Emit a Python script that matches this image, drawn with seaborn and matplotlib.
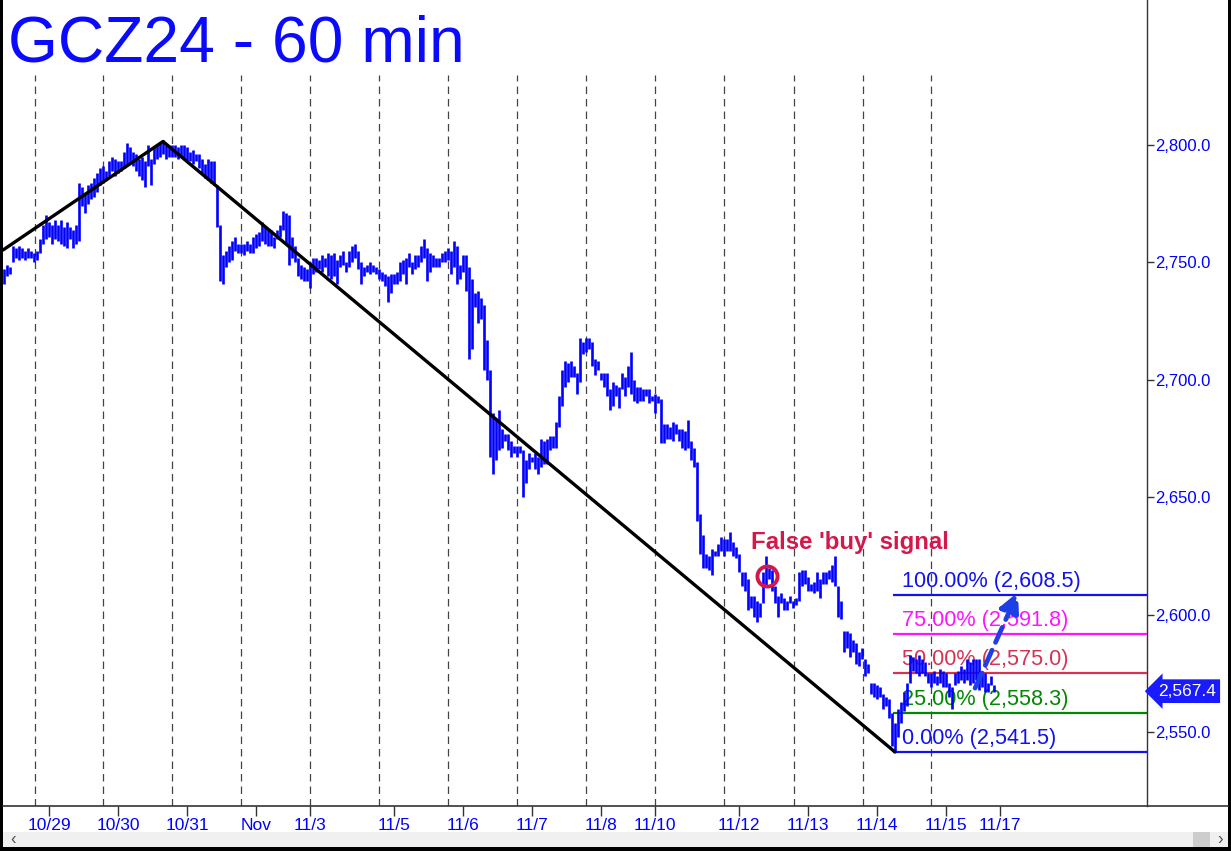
import numpy as np
import matplotlib
matplotlib.use("Agg")
import matplotlib.pyplot as plt
import matplotlib.transforms as mtransforms
from matplotlib.patches import Rectangle
from matplotlib.lines import Line2D
import seaborn as sns

sns.set_theme(style="white")
plt.rcParams['font.family'] = ['Liberation Sans', 'DejaVu Sans']

# hourly bars, high / low
highs = [
    2747, 2749, 2748, 2757, 2756, 2757, 2756, 2755, 2756, 2755, 2754,
    2755, 2760, 2766, 2770, 2767, 2766, 2768, 2766, 2768, 2765, 2767, 2765,
    2764, 2766, 2784, 2782, 2779, 2783, 2784, 2786, 2788, 2790, 2791,
    2789, 2793, 2795, 2794, 2793, 2793, 2797, 2801, 2799, 2797, 2796, 2794,
    2795, 2793, 2800, 2794, 2799, 2800, 2801, 2802, 2800, 2799, 2800,
    2800, 2799, 2800, 2800, 2799, 2797, 2798, 2796, 2796, 2794, 2792, 2794,
    2793, 2793, 2783, 2766, 2753, 2755, 2757, 2759, 2761, 2758, 2758,
    2758, 2759, 2758, 2761, 2762, 2763, 2767, 2765, 2764, 2764, 2761, 2764,
    2766, 2772, 2771, 2770, 2761, 2757, 2752, 2749, 2748, 2747, 2750,
    2752, 2752, 2751, 2753, 2752, 2754, 2753, 2754, 2751, 2753, 2755, 2750,
    2755, 2757, 2758, 2755, 2750, 2748, 2749, 2750, 2749, 2748, 2747,
    2746, 2745, 2744, 2745, 2745, 2746, 2750, 2751, 2752, 2754, 2750, 2753,
    2753, 2757, 2760, 2756, 2754, 2753, 2752, 2752, 2754, 2755, 2756,
    2755, 2759, 2757, 2749, 2753, 2753, 2748, 2743, 2737, 2738, 2735, 2732, 2717,
    2704, 2686, 2683, 2687, 2679, 2677, 2677, 2674, 2672, 2672, 2672,
    2670, 2666, 2669, 2667, 2669, 2667, 2675, 2674, 2675, 2676, 2676, 2682,
    2693, 2704, 2708, 2707, 2708, 2706, 2703, 2718, 2716, 2718, 2718, 2716,
    2709, 2708, 2703, 2703, 2703, 2696, 2699, 2698, 2697, 2703, 2701, 2706,
    2712, 2700, 2697, 2697, 2696, 2696, 2696, 2693, 2694, 2693, 2692,
    2681, 2681, 2680, 2682, 2681, 2679, 2679, 2678, 2683, 2674, 2671, 2665,
    2643, 2634, 2626, 2625, 2628, 2627, 2630, 2633, 2632, 2632, 2635, 2631,
    2629, 2626, 2618, 2618, 2615, 2608, 2608, 2606, 2605, 2618, 2625, 2620,
    2619, 2612, 2608, 2609, 2607, 2606, 2608, 2606, 2607, 2618, 2619, 2619,
    2616, 2613, 2614, 2618, 2615, 2618, 2618, 2619,
    2621, 2625, 2612, 2606, 2593, 2593, 2592, 2589, 2588, 2584, 2586, 2581,
    2579, 2571, 2571, 2570, 2569, 2566, 2565, 2564, 2558, 2554, 2560, 2563,
    2567, 2571, 2583, 2582, 2581, 2583, 2581, 2580, 2575, 2575, 2576, 2574,
    2577, 2576, 2575, 2571, 2569, 2575, 2576, 2578, 2577, 2581, 2580, 2581,
    2581, 2581, 2576, 2575, 2571, 2574, 2570,
]
lows = [
    2741, 2744, 2745, 2750, 2752, 2751, 2752, 2751, 2752, 2752, 2750,
    2751, 2754, 2758, 2760, 2761, 2758, 2760, 2759, 2758, 2757, 2756, 2760,
    2756, 2758, 2759, 2774, 2771, 2775, 2777, 2778, 2780, 2783, 2784,
    2785, 2787, 2789, 2787, 2788, 2789, 2790, 2792, 2792, 2791, 2789, 2787,
    2785, 2782, 2791, 2783, 2792, 2794, 2795, 2796, 2794, 2795, 2795,
    2795, 2794, 2795, 2794, 2793, 2793, 2792, 2793, 2790, 2788, 2786, 2785,
    2784, 2783, 2765, 2742, 2741, 2748, 2750, 2751, 2755, 2754, 2754,
    2753, 2755, 2754, 2754, 2756, 2757, 2759, 2758, 2757, 2757, 2756, 2760,
    2761, 2764, 2758, 2749, 2752, 2750, 2744, 2743, 2742, 2742, 2739,
    2745, 2746, 2747, 2746, 2748, 2744, 2743, 2744, 2741, 2748, 2749, 2746,
    2748, 2750, 2752, 2747, 2741, 2744, 2746, 2745, 2746, 2745, 2743,
    2742, 2740, 2733, 2737, 2741, 2741, 2742, 2745, 2741, 2748, 2745, 2747,
    2748, 2750, 2752, 2742, 2746, 2748, 2748, 2748, 2750, 2750, 2751,
    2745, 2748, 2741, 2743, 2746, 2738, 2709, 2713, 2731, 2724, 2726, 2704, 2700,
    2667, 2660, 2666, 2670, 2671, 2674, 2670, 2667, 2669, 2667, 2669,
    2650, 2656, 2662, 2665, 2662, 2660, 2663, 2664, 2664, 2670, 2671, 2671,
    2680, 2689, 2697, 2699, 2701, 2701, 2694, 2699, 2711, 2712, 2713, 2706,
    2702, 2704, 2700, 2697, 2693, 2687, 2689, 2693, 2688, 2696, 2693, 2697,
    2694, 2691, 2690, 2691, 2691, 2693, 2690, 2691, 2686, 2690, 2673,
    2673, 2675, 2675, 2674, 2677, 2674, 2671, 2670, 2671, 2666, 2663, 2640,
    2626, 2620, 2620, 2619, 2617, 2625, 2625, 2627, 2625, 2627, 2627, 2625,
    2624, 2618, 2612, 2610, 2602, 2603, 2599, 2597, 2599, 2605, 2612, 2615,
    2610, 2605, 2599, 2605, 2602, 2602, 2605, 2603, 2604, 2606, 2612, 2613,
    2610, 2610, 2609, 2610, 2607, 2613, 2613, 2615,
    2614, 2612, 2599, 2598, 2584, 2586, 2582, 2584, 2579, 2578, 2581, 2574,
    2575, 2566, 2565, 2564, 2565, 2560, 2561, 2556, 2544, 2541.5, 2548, 2554,
    2559, 2561, 2571, 2576, 2575, 2574, 2575, 2574, 2571, 2569, 2571, 2570,
    2571, 2569, 2569, 2565, 2560, 2570, 2571, 2572, 2571, 2572, 2570, 2571,
    2572, 2568, 2569, 2567, 2567, 2570, 2567,
]

tick_pos = [15, 38, 61, 84, 102, 130, 153, 176, 199, 217, 245, 268, 291, 314, 332]
tick_labels = ['10/29', '10/30', '10/31', 'Nov', '11/3', '11/5', '11/6', '11/7',
               '11/8', '11/10', '11/12', '11/13', '11/14', '11/15', '11/17']
session_breaks = [10.3, 33, 56, 79, 102, 125, 148, 171, 194, 217, 240, 263.3, 286.3, 309]

trend_x = [-0.3, 53, 297]
trend_y = [2755.3, 2801.5, 2541.5]

fib_pct = ['100.00%', '75.00%', '50.00%', '25.00%', '0.00%']
fib_levels = [2608.5, 2591.8, 2575.0, 2558.3, 2541.5]
fib_colors = ['#1212ee', '#ff14ff', '#d43452', '#008800', '#1212ee']
fib_start = 296.3

last_price = 2567.4
signal_bar, signal_price = 254.3, 2616.4
arrow_from = (323.7, 2568.7)
arrow_to = (338.0, 2609.6)

BLUE = '#0000ff'
RED = '#d4184b'

W, H = 1231, 851
fig = plt.figure(figsize=(W / 100, H / 100), dpi=100)
ax = fig.add_axes([3 / W, 45 / H, 1144 / W, 806 / H])
ax.set_facecolor('white')

x = np.arange(len(highs))
ax.vlines(x, lows, highs, color=BLUE, lw=1.9, zorder=4)

for b in session_breaks:
    ax.axvline(b, ymin=0, ymax=(806 - 75) / 806, color='#444444', lw=0.9,
               ls=(0, (6, 4)), zorder=1)

sns.lineplot(x=trend_x, y=trend_y, ax=ax, color='black', lw=2.4,
             estimator=None, sort=False, zorder=5)

for pct, lvl, c in zip(fib_pct, fib_levels, fib_colors):
    ax.hlines(lvl, fib_start, 381, color=c, lw=1.6, zorder=3)
    ax.text(fib_start + 3, lvl + 3.4, f"{pct} ({lvl:,.1f})", color=c,
            fontsize=15.6, va='baseline', ha='left', zorder=2)

ax.text(249, 2627.9, "False 'buy' signal", color=RED, fontsize=17.3,
        fontweight='bold', va='baseline', ha='left', zorder=6)
ax.plot(signal_bar, signal_price, 'o', ms=14.5, mfc='none', mec=RED,
        mew=2.8, zorder=6)

ax.annotate('', xy=arrow_to, xytext=arrow_from,
            arrowprops=dict(arrowstyle='-|>,head_length=1.0,head_width=0.5',
                            color='#1e3fe6', lw=3.4, ls=(0, (3.5, 1.8)),
                            shrinkA=0, shrinkB=0), zorder=7)

ax.set_xlim(-0.33, 381)
ax.set_ylim(2518.5, 2861.75)

ax.yaxis.tick_right()
ax.set_yticks(range(2550, 2801, 50))
ax.set_yticklabels([f"{v:,.1f}" for v in range(2550, 2801, 50)])
ax.tick_params(axis='y', right=True, left=False, length=5, width=1,
               color='#333333', labelcolor=BLUE, labelsize=12, pad=1)
ax.set_xticks(tick_pos)
ax.set_xticklabels(tick_labels)
ax.tick_params(axis='x', bottom=True, length=7, width=1, color='#333333',
               labelcolor=BLUE, labelsize=12.5, pad=2)
for s in ['left', 'top', 'bottom']:
    ax.spines[s].set_visible(False)
ax.spines['right'].set_color('#333333')
ax.spines['right'].set_linewidth(1)

# last price flag
tr = mtransforms.blended_transform_factory(ax.transAxes, ax.transData)
ax.text(1.0095, last_price, f"{last_price:,.1f}", transform=tr, color='white',
        fontsize=12.5, va='center', ha='left', clip_on=False, zorder=8,
        bbox=dict(boxstyle='larrow,pad=0.25', fc='#1a1aff', ec='none'))

# title
fig.text(8 / W, 1 - 62 / H, "GCZ24 - 60 min", fontsize=46.2, color='#0a0aff',
         va='baseline', ha='left')

# frame, bottom axis line and scroll bar
fig.add_artist(Line2D([3 / W, 1228 / W], [45 / H, 45 / H], color='#333333',
                      lw=1.2, transform=fig.transFigure))
fig.add_artist(Rectangle((3 / W, 4 / H), (W - 6) / W, 15 / H,
                         transform=fig.transFigure, color='#f0f0f0', lw=0))
fig.add_artist(Rectangle((1193 / W, 4 / H), 17 / W, 15 / H,
                         transform=fig.transFigure, color='#cdcdcd', lw=0))
fig.text(10 / W, 11.5 / H, '‹', fontsize=12, color='#505050', va='center')
fig.text(1217 / W, 11.5 / H, '›', fontsize=12, color='#505050', va='center')
for rect in [(0, 0, 3 / W, 1), ((W - 3) / W, 0, 3 / W, 1), (0, 0, 1, 4 / H)]:
    fig.add_artist(Rectangle(rect[:2], rect[2], rect[3],
                             transform=fig.transFigure, color='black', lw=0))

fig.savefig("out.png", dpi=100)
